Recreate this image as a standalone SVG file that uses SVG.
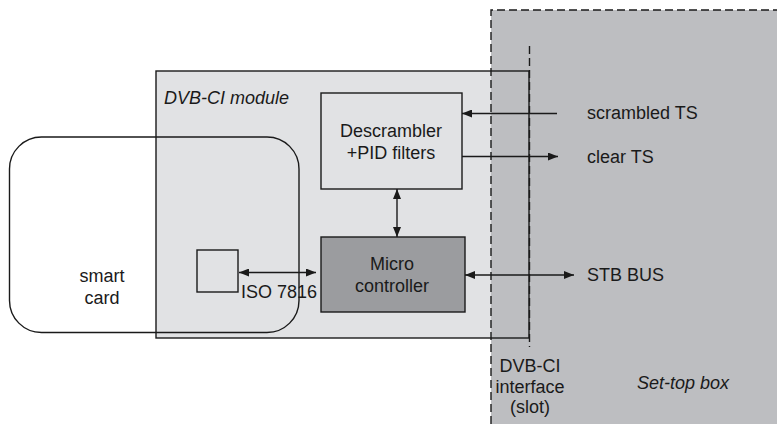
<svg xmlns="http://www.w3.org/2000/svg" width="777" height="424" viewBox="0 0 777 424">
<style>
text{font-family:"Liberation Sans",Arial,sans-serif;font-size:18px;fill:#1a1a1a}
.it{font-style:italic}
.ln{stroke:#1a1a1a;stroke-width:1.4;fill:none}
.dash{stroke:#1a1a1a;stroke-width:1.4;fill:none;stroke-dasharray:8 4}
</style>
<defs>
<marker id="ah" viewBox="0 0 10 8" refX="10" refY="4" markerWidth="10" markerHeight="8" markerUnits="userSpaceOnUse" orient="auto-start-reverse">
<path d="M0,0 L10,4 L0,8 z" fill="#1a1a1a"/>
</marker>
</defs>
<g id="module-bg"><rect x="156" y="71" width="373" height="267" fill="#e1e2e4"/></g>
<g id="set-top-box">
<rect x="491" y="10" width="290" height="420" fill="#bdbec1"/>
<path class="dash" d="M491,424 V10 H777"/>
<text class="it" x="637" y="389">Set-top box</text>
</g>
<g id="dvb-ci-module">
<rect class="ln" x="156" y="71" width="373" height="267"/>
<text class="it" x="164" y="104">DVB-CI module</text>
</g>
<g id="interface">
<line class="dash" x1="529.5" y1="46" x2="529.5" y2="347"/>
<text x="530" y="372" text-anchor="middle">DVB-CI</text>
<text x="530" y="393" text-anchor="middle">interface</text>
<text x="530" y="413" text-anchor="middle">(slot)</text>
</g>
<g id="smart-card">
<rect class="ln" x="9.5" y="137" width="289.5" height="195.5" rx="32" ry="32"/>
<text x="102" y="282" text-anchor="middle">smart</text>
<text x="102" y="304" text-anchor="middle">card</text>
</g>
<g id="chip"><rect class="ln" x="197" y="250" width="41" height="42"/></g>
<g id="descrambler">
<rect x="321" y="93" width="141" height="96" fill="#e1e2e4" stroke="#1a1a1a" stroke-width="1.4"/>
<text x="391" y="137" text-anchor="middle">Descrambler</text>
<text x="391" y="159" text-anchor="middle">+PID filters</text>
</g>
<g id="microcontroller">
<rect x="321" y="237" width="144" height="75" fill="#9b9c9f" stroke="#1a1a1a" stroke-width="1.4"/>
<text x="392" y="270" text-anchor="middle">Micro</text>
<text x="392" y="292" text-anchor="middle">controller</text>
</g>
<g id="connectors">
<line class="ln" x1="557" y1="113.5" x2="462" y2="113.5" marker-end="url(#ah)"/>
<line class="ln" x1="462" y1="156.5" x2="558" y2="156.5" marker-end="url(#ah)"/>
<line class="ln" x1="465" y1="275" x2="574" y2="275" marker-start="url(#ah)" marker-end="url(#ah)"/>
<line class="ln" x1="397" y1="189" x2="397" y2="237" marker-start="url(#ah)" marker-end="url(#ah)"/>
<line class="ln" x1="239" y1="272.5" x2="316" y2="272.5" marker-start="url(#ah)" marker-end="url(#ah)"/>
</g>
<g id="labels">
<text x="587" y="119">scrambled TS</text>
<text x="587" y="163">clear TS</text>
<text x="587" y="281">STB BUS</text>
<text x="241" y="298">ISO 7816</text>
</g>
</svg>
